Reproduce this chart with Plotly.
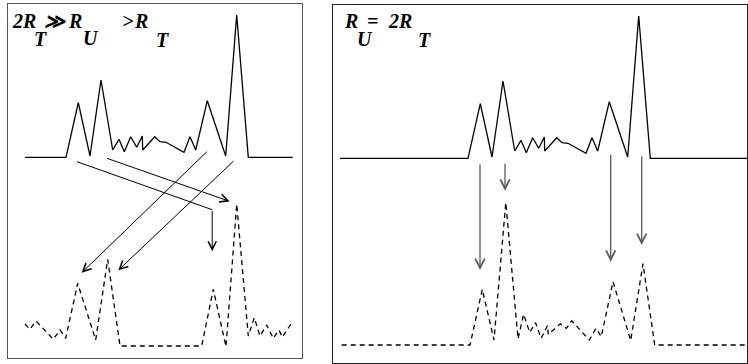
import plotly.graph_objects as go

W, H = 748, 364

# ---------------- data ----------------
# shared time axis of the original signal (top row) and its amplitude
T_SIG = [66, 78.3, 90, 101, 112.7, 119, 124.3, 130.7, 136.7, 142.3, 142.7,
         154.7, 160, 166, 184, 190, 195.7, 207.3, 225.7, 236.7, 248.3]
A_SIG = [0, 54.6, 1.3, 77.3, 7.3, 18, 5.6, 20.6, 10, 21.3, 7.3,
         20.6, 15.6, 15, 5, 20.6, 7.3, 56.6, 1.3, 142.3, 0]
LEFT_WINDOW = [25, 292.7]
RIGHT_WINDOW = [-62, 346]

# reconstructed signal, left panel (2R_T >> R_U > R_T)
T_LOW_L = [25, 30, 36, 53.3, 60, 65.7, 77.7, 95.7, 107.7, 120, 201.7, 213.3,
           226, 236.7, 248.3, 254.3, 260, 266.7, 273.3, 279, 282.3, 291]
A_LOW_L = [22.3, 17, 25.3, 7, 16.3, 8, 63, 6.3, 87, 0.3, 0.3, 57,
           -0.4, 142.3, 10.3, 28.6, 10.3, 21.3, 8, 16.3, 9, 22.3]

# reconstructed signal, right panel (R_U = 2R_T)
T_LOW_R = [-60.3, 68, 80.3, 92, 103.8, 116, 121.7, 127.7, 133.5, 139.2, 145.5,
           146.3, 158.3, 164.3, 169.7, 187.3, 194, 199.3, 211, 228.7, 241, 252.7, 346]
A_LOW_R = [0, 0, 55.7, 5, 142.5, 6.2, 30.8, 12.5, 22.3, 6.7, 19.5,
           10.5, 21.2, 16.7, 24.3, 5, 16.7, 8.3, 63.3, 4.5, 81.3, 0, 0]

# row baselines (height units) per panel
LEVEL_L = {"top": 206.7, "low": 17.7}
LEVEL_R = {"top": 205.7, "low": 19.0}

# arrows: (tail_t, tail_h, tip_t, tip_h, corner)
ARROWS_L = [
    (77.0, 202.3, 212.2, 112.8, (212.2, 154.3)),
    (105.5, 206.2, 229.7, 162.6, None),
    (208.3, 213.7, 81.7, 91.3, None),
    (235.0, 204.3, 118.3, 93.7, None),
]
ARROWS_R = [
    (78.0, 201.0, 78.0, 94.0),
    (103.0, 201.7, 103.0, 173.3),
    (208.7, 210.7, 208.7, 102.3),
    (239.7, 209.0, 239.7, 119.0),
]

LABEL_L = [("2R", 10, 21), ("T", 32, 39), ("≫", 42, 21), ("R", 66, 21),
           ("U", 81, 38), (">", 120, 21), ("R", 132, 21), ("T", 154, 40)]
LABEL_R = [("R", 342, 21), ("U", 355, 39), ("=", 365, 21),
           ("2R", 386, 21), ("T", 416, 40)]

# ---------------- figure ----------------
fig = go.Figure()

def with_window(win, t, a):
    return [win[0]] + t + [win[1]], [0] + a + [0]

tl, al = with_window(LEFT_WINDOW, T_SIG, A_SIG)
tr, ar = with_window(RIGHT_WINDOW, T_SIG, A_SIG)

solid = dict(color="black", width=1.3)
dashed = dict(color="black", width=1.3, dash="5px,4px")

fig.add_trace(go.Scatter(x=tl, y=[LEVEL_L["top"] + v for v in al], mode="lines",
                         line=solid, xaxis="x", yaxis="y", hoverinfo="skip"))
fig.add_trace(go.Scatter(x=T_LOW_L, y=[LEVEL_L["low"] + v for v in A_LOW_L], mode="lines",
                         line=dashed, xaxis="x", yaxis="y", hoverinfo="skip"))
fig.add_trace(go.Scatter(x=tr, y=[LEVEL_R["top"] + v for v in ar], mode="lines",
                         line=solid, xaxis="x2", yaxis="y2", hoverinfo="skip"))
fig.add_trace(go.Scatter(x=T_LOW_R, y=[LEVEL_R["low"] + v for v in A_LOW_R], mode="lines",
                         line=dashed, xaxis="x2", yaxis="y2", hoverinfo="skip"))

annotations = []
for (t0, h0, t1, h1, bend) in ARROWS_L:
    if bend is not None:
        fig.add_trace(go.Scatter(x=[t0, bend[0]], y=[h0, bend[1]], mode="lines",
                                 line=dict(color="black", width=1), xaxis="x", yaxis="y",
                                 hoverinfo="skip"))
        t0, h0 = bend
    annotations.append(dict(x=t1, y=h1, ax=t0, ay=h0, xref="x", yref="y", axref="x", ayref="y",
                            text="", showarrow=True, arrowhead=5, arrowsize=1.6,
                            arrowwidth=1, arrowcolor="black", standoff=0))
for (t0, h0, t1, h1) in ARROWS_R:
    annotations.append(dict(x=t1, y=h1, ax=t0, ay=h0, xref="x2", yref="y2", axref="x2", ayref="y2",
                            text="", showarrow=True, arrowhead=5, arrowsize=1.4,
                            arrowwidth=1.3, arrowcolor="#5a5a5a", standoff=0))

for txt, px, py in LABEL_L + LABEL_R:
    annotations.append(dict(x=px / W, y=1 - py / H, xref="paper", yref="paper",
                            text="<b><i>%s</i></b>" % txt, showarrow=False,
                            xanchor="left", yanchor="middle",
                            font=dict(family="Liberation Serif", size=20, color="black")))

axis_common = dict(showgrid=False, zeroline=False, showticklabels=False, ticks="",
                   showline=True, mirror=True, linewidth=1)

fig.update_layout(
    width=W, height=H, margin=dict(l=0, r=0, t=0, b=0),
    paper_bgcolor="white", plot_bgcolor="white", showlegend=False,
    xaxis=dict(domain=[8 / W, 302 / W], range=[8, 302], linecolor="#555555", **axis_common),
    yaxis=dict(domain=[1 - 358 / H, 1 - 4 / H], range=[6, 360], linecolor="#555555", **axis_common),
    xaxis2=dict(domain=[333 / W, 747 / W], range=[-69, 345], anchor="y2", linecolor="#222222",
                **axis_common),
    yaxis2=dict(domain=[1 - 363 / H, 1 - 5 / H], range=[1, 359], anchor="x2", linecolor="#222222",
                **axis_common),
    annotations=annotations,
)

fig.write_html("out.html")
